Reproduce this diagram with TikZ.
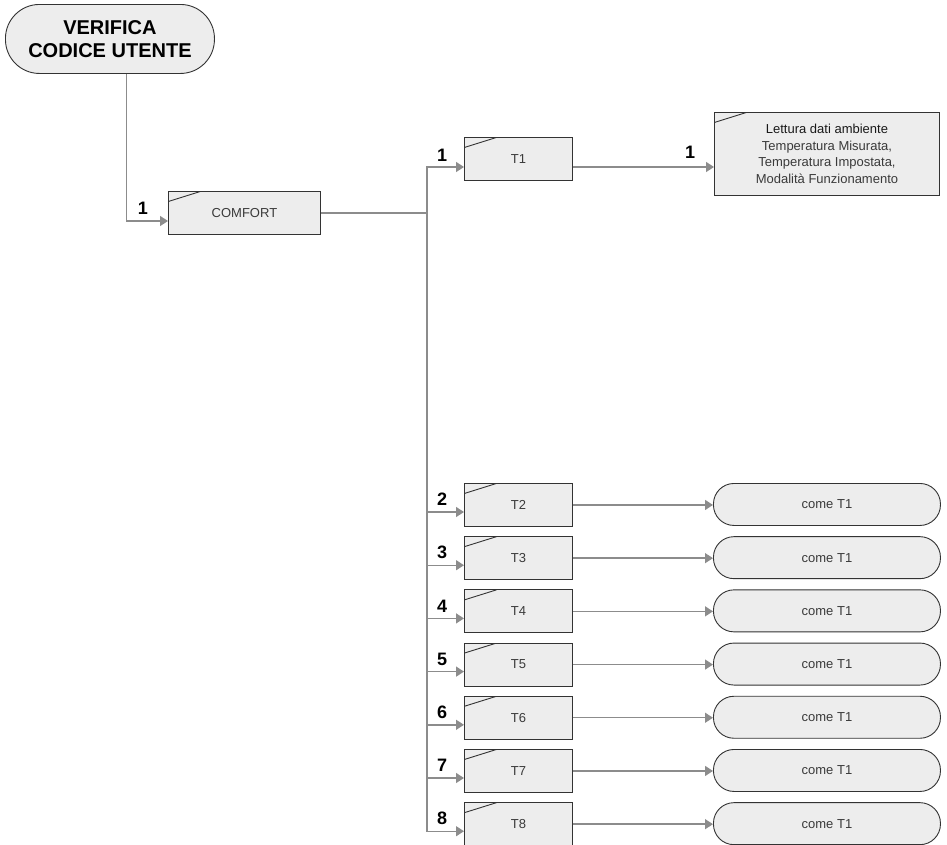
\documentclass[tikz,border=0pt]{standalone}
\usepackage{fontspec}
\setmainfont{Liberation Sans}
\usetikzlibrary{arrows.meta,calc}
\definecolor{boxfill}{HTML}{EDEDED}
\definecolor{edgec}{HTML}{333333}
\definecolor{connc}{HTML}{8C8C8C}
\definecolor{txtc}{HTML}{3A3A3A}
\begin{document}
\begin{tikzpicture}[x=1pt,y=-1pt,
  rbox/.style={draw=edgec, line width=0.9pt, fill=boxfill, minimum width=108pt, minimum height=43pt,
    anchor=north west, inner sep=0pt, font=\fontsize{13}{16.5}\selectfont, text=txtc,
    path picture={\draw[edgec,line width=0.9pt] ([yshift=-10pt]path picture bounding box.north west) -- ([xshift=32pt]path picture bounding box.north west);}},
  pill/.style={draw=edgec, line width=0.9pt, fill=boxfill, rounded corners=20.5pt, minimum width=227pt, minimum height=42pt,
    anchor=north west, inner sep=0pt, font=\fontsize{13}{16}\selectfont, text=txtc},
  arr/.style={draw=connc, line width=1.4pt, -{Triangle[length=8pt,width=10pt]}},
  cline/.style={draw=connc, line width=1.4pt},
  num/.style={font=\fontsize{18}{18}\selectfont\bfseries, text=black, inner sep=0pt}
]
\useasboundingbox (0,0) rectangle (947,844);

\node[draw=edgec, line width=0.9pt, fill=boxfill, rounded corners=34pt, minimum width=209pt, minimum height=69pt,
  anchor=north west, inner sep=0pt, align=center, font=\fontsize{20}{23}\selectfont\bfseries] (ver) at (5,4) {VERIFICA\\CODICE UTENTE};

\node[rbox, minimum width=152pt] (comfort) at (168,191) {COMFORT};
\node[rbox] (t1) at (464,137) {T1};
\node[rbox, minimum width=225pt, minimum height=83pt, align=center] (let) at (714,112)
  {\textcolor{black!90}{Lettura dati ambiente}\\Temperatura Misurata,\\Temperatura Impostata,\\Modalità Funzionamento};

\draw[arr] ([xshift=16.5pt]ver.south) |- ([yshift=-30pt]comfort.north west);
\node[num] (lc) at ([xshift=-25pt,yshift=-17pt]comfort.north west) {1};

\coordinate (jn) at ($(comfort.east)+(106pt,0)$);
\draw[cline] (comfort.east) -- (jn);

\draw[arr] (jn) |- ([yshift=-30pt]t1.north west);
\node[num] (l1) at ([xshift=-22pt,yshift=-18pt]t1.north west) {1};
\draw[arr] ([yshift=-30pt]t1.north east) -- ([yshift=-30pt]t1.north east -| let.west);
\node[num] (ll) at ([xshift=-24pt,yshift=-40pt]let.north west) {1};

\foreach \i in {2,...,8} {
  \pgfmathsetmacro{\yy}{483+53.2*(\i-2)}
  \node[rbox] (t\i) at (464,\yy) {T\i};
  \node[pill] (c\i) at (713,\yy) {come T1};
  \draw[arr] (jn) |- ([yshift=-29pt]t\i.north west);
  \node[num] (l\i) at ([xshift=-22pt,yshift=-16.5pt]t\i.north west) {\i};
  \draw[arr] (t\i.east) -- (t\i.east -| c\i.west);
}
\end{tikzpicture}
\end{document}
